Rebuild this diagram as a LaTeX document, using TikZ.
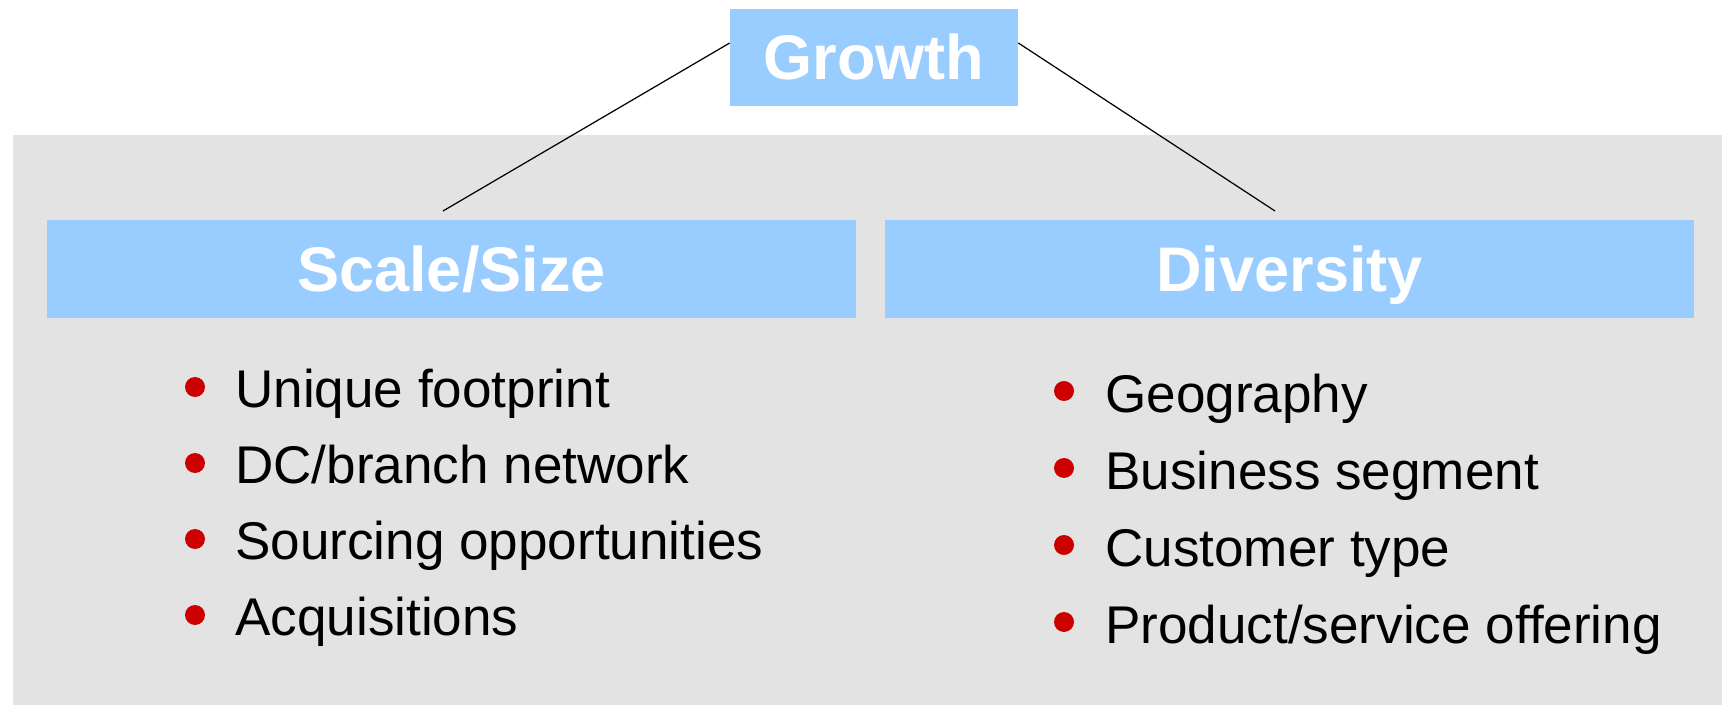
\documentclass[tikz,border=0pt]{standalone}
\usepackage{fontspec}
\setmainfont{Liberation Sans}
\usetikzlibrary{positioning}
\definecolor{HeadBlue}{HTML}{99CCFF}
\definecolor{PanelGray}{HTML}{E3E3E3}
\definecolor{DotRed}{HTML}{CC0000}

\begin{document}
\begin{tikzpicture}[x=0.02cm,y=-0.02cm,
          head/.style={fill=HeadBlue,text=white,inner sep=0pt,
            text height=0.9cm,text depth=0pt,
            font=\fontsize{35.9}{43}\selectfont\bfseries},
          item/.style={anchor=base west,inner sep=0pt,
            font=\fontsize{30.2}{36}\selectfont},
          dot/.style={circle,fill=DotRed,inner sep=0pt,minimum size=0.4cm},
          ln/.style={line width=0.7pt,black}]
        \useasboundingbox (0,0) rectangle (1722,705);
        \fill[PanelGray] (13,135) rectangle (1722,705);

        \node[head,minimum width=5.76cm,minimum height=1.94cm]
        (growth) at (874,57.5) {Growth};
        \node[head,minimum width=16.18cm,minimum height=1.96cm]
        (scale)  at (451.5,269) {Scale/Size};
        \node[head,minimum width=16.18cm,minimum height=1.96cm]
        (div)    at (1289.5,269) {Diversity};

        % free ends just above the two headers
        \coordinate (sEnd) at (443,211);
        \coordinate (dEnd) at (1275,211);
        \draw[ln] ([yshift=0.29cm]growth.west) -- (sEnd);
        \draw[ln] ([yshift=0.29cm]growth.east) -- (dEnd);

        % bullet lists
        \foreach \txt [count=\i] in {Unique footprint, DC/branch network,
            Sourcing opportunities, Acquisitions} {
          \node[dot]  (sd\i) at (195,311+76*\i) {};
          \node[item] (s\i)  at (235,332+76*\i) {\txt};
        }
        \foreach \txt [count=\i] in {Geography, Business segment,
            Customer type, Product/service offering} {
          \node[dot]  (dd\i) at (1064,314+77*\i) {};
          \node[item] (d\i)  at (1105,336+77*\i) {\txt};
        }
      \end{tikzpicture}
\end{document}
